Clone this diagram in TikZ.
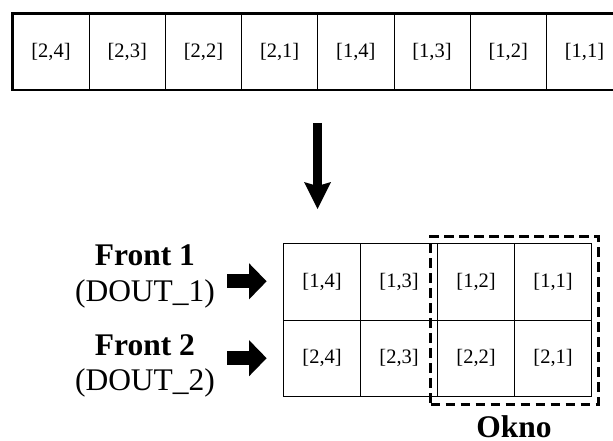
\documentclass[tikz,border=0pt]{standalone}
\usepackage{fontspec}
\setmainfont{Liberation Serif}
\usetikzlibrary{arrows.meta}
\begin{document}
\begin{tikzpicture}[x=1pt,y=-1pt,
  stripcell/.style={draw, line width=0.9pt, minimum width=76.2pt, minimum height=75.8pt,
    inner sep=0pt, anchor=north west, font=\fontsize{20.5}{24}\selectfont},
  gridcell/.style={draw, line width=1.2pt, minimum width=77pt, minimum height=76.5pt,
    inner sep=0pt, anchor=north west, font=\fontsize{20.5}{24}\selectfont},
  stripframe/.style={draw, line width=2.3pt},
  bigtext/.style={anchor=base, inner sep=0pt, font=\fontsize{31.5}{37}\selectfont},
  boldtext/.style={bigtext, font=\fontsize{31.5}{37}\selectfont\bfseries},
  window/.style={draw, line width=3pt, dash pattern=on 9.5pt off 5.5pt},
  blockarrow/.style={line width=13.8pt,
    -{Triangle[length=17.5pt, width=36pt, line width=0pt]}},
  downarrow/.style={line width=8.4pt,
    -{Stealth[length=27pt, width=27pt, inset=4pt, line width=0pt]}}
]
\useasboundingbox (0,0) rectangle (613,441);

% memory strip: one row of eight words
\foreach \lab [count=\i] in {{[2,4]},{[2,3]},{[2,2]},{[2,1]},{[1,4]},{[1,3]},{[1,2]},{[1,1]}}
  \node[stripcell] (t\i) at ({12.5+76.2*(\i-1)},13.5) {\lab};
\draw[stripframe] (t1.north west) rectangle (t8.south east);

% two-row buffer
\foreach \lab [count=\i] in {{[1,4]},{[1,3]},{[1,2]},{[1,1]}}
  \node[gridcell] (ga\i) at ({283+77*(\i-1)},243) {\lab};
\foreach \lab [count=\i] in {{[2,4]},{[2,3]},{[2,2]},{[2,1]}}
  \node[gridcell] (gb\i) at ({283+77*(\i-1)},319.5) {\lab};

% window over the two newest columns
\node[window, inner sep=0pt, minimum width=167.5pt, minimum height=168pt, anchor=north west]
  (win) at (429,234.8) {};
\node[boldtext] (okno) at (514,437.5) {Okno};

% input labels
\node[boldtext] (front1) at (145,265) {Front 1};
\node[bigtext] (dout1) at (145,301.7) {(DOUT\_1)};
\node[boldtext] (front2) at (145,355) {Front 2};
\node[bigtext] (dout2) at (145,390.5) {(DOUT\_2)};

% arrows
\coordinate (d0) at (317.5,123);
\coordinate (d1) at (317.5,209);
\draw[downarrow] (d0) -- (d1);
\coordinate (a1) at (227.3,281.3);
\coordinate (a2) at (227.3,358.2);
\draw[blockarrow, shorten >=16.4pt] (a1) -- (ga1.west |- a1);
\draw[blockarrow, shorten >=16.4pt] (a2) -- (gb1.west |- a2);
\end{tikzpicture}
\end{document}
